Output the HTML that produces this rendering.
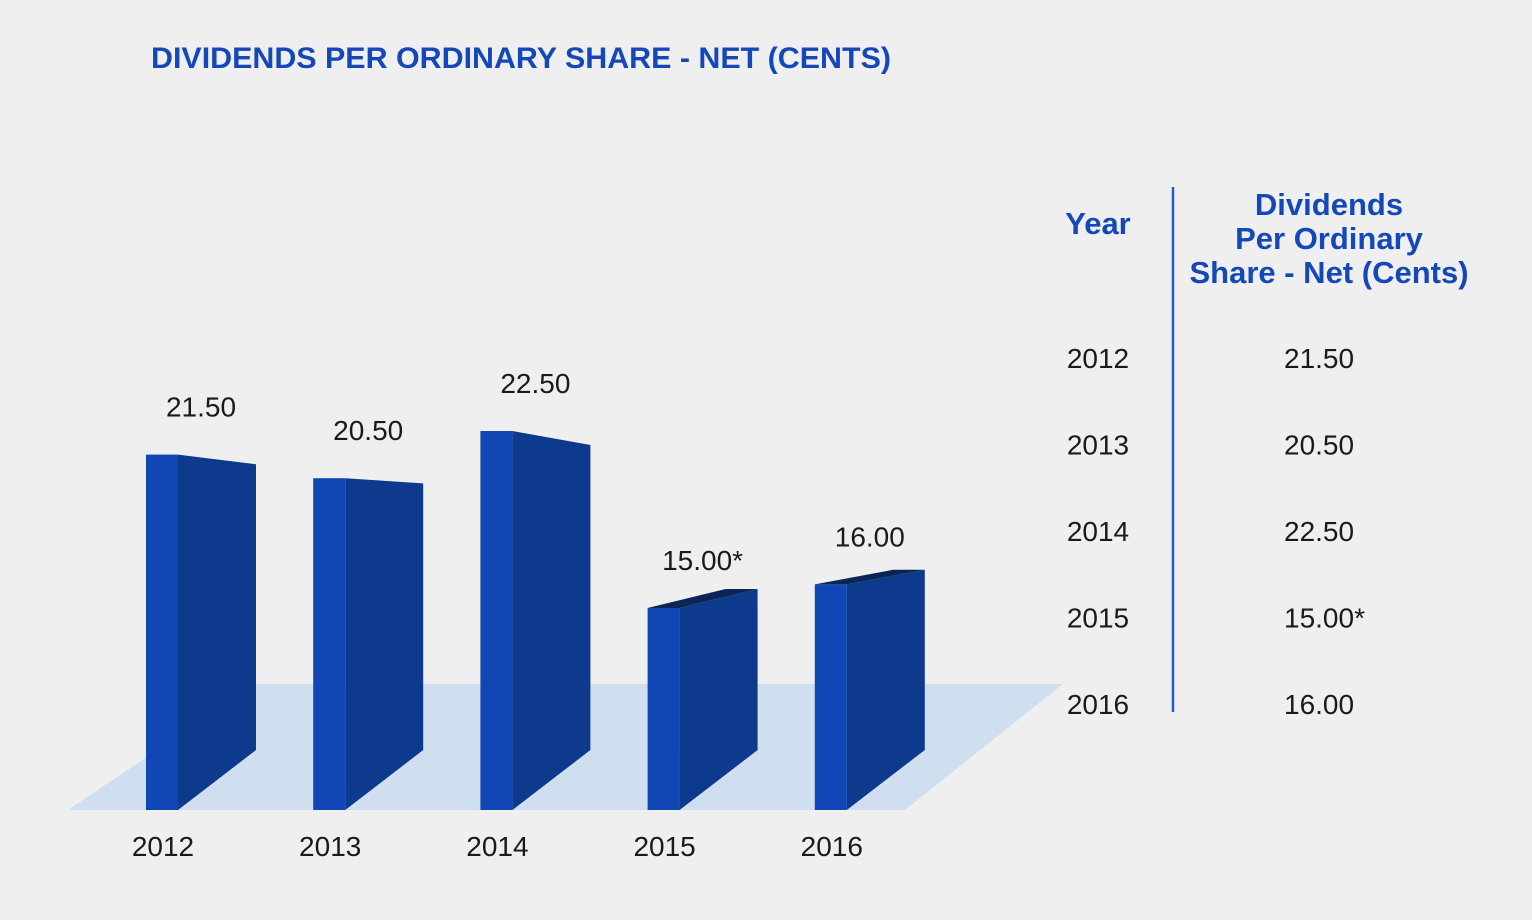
<!DOCTYPE html>
<html><head><meta charset="utf-8"><style>
html,body{margin:0;padding:0;background:#efefef;}
svg{display:block;font-family:"Liberation Sans",sans-serif;}
</style></head><body>
<svg id="chart" width="1532" height="920" viewBox="0 0 1532 920">
<rect width="1532" height="920" fill="#efefef"/>
<text x="151" y="68" font-size="30" font-weight="bold" fill="#1448b8" textLength="740" lengthAdjust="spacingAndGlyphs">DIVIDENDS PER ORDINARY SHARE - NET (CENTS)</text>
<polygon points="68,810 905,810 1063,684 255,684" fill="#cfdff0"/>
<g id="bars"></g>
<line x1="1173" y1="187" x2="1173" y2="712" stroke="#1f5fc8" stroke-width="2.5"/>
<text x="1098" y="234" font-size="31" font-weight="bold" fill="#1448b8" text-anchor="middle">Year</text>
<g font-size="31" font-weight="bold" fill="#1448b8" text-anchor="middle">
<text x="1329" y="215">Dividends</text>
<text x="1329" y="249">Per Ordinary</text>
<text x="1329" y="283">Share - Net (Cents)</text>
</g>
<g id="table"></g>
</svg>
<script>
const categories = ["2012","2013","2014","2015","2016"];
const values = [21.5, 20.5, 22.5, 15.0, 16.0];
const valueLabels = ["21.50","20.50","22.50","15.00*","16.00"];
const NS = "http://www.w3.org/2000/svg";
const base = 810, backBase = 750;
function frontH(v){ return v*23.6 - 152; }
function backH(v){ return v*19.2 - 127; }
function xPos(i){ return 146 + i*167.2; }
function mk(tag, attrs, parent){
  const e = document.createElementNS(NS, tag);
  for (const k in attrs) e.setAttribute(k, attrs[k]);
  parent.appendChild(e); return e;
}
const g = document.getElementById('bars');
categories.forEach((c,i)=>{
  const v = values[i];
  const x = xPos(i), fw = 32, dx = 78;
  const top = base - frontH(v);
  const rtop = backBase - backH(v);
  const side = mk('polygon',{points:`${x+fw},${top} ${x+fw+dx},${rtop} ${x+fw+dx},${backBase} ${x+fw},${base}`, fill:'#0e3a8e'}, g);
  
  
  if (rtop < top) {
    const tp = mk('polygon',{points:`${x},${top} ${x+fw},${top} ${x+fw+dx},${rtop} ${x+dx},${rtop}`, fill:'#0b2556'}, g);
    
    
  }
  const fr = mk('rect',{x:x, y:top, width:fw, height:base-top, fill:'#1147b5'}, g);
  
  
  const lb = mk('text',{x:x+55, y:top-38, 'font-size':28, fill:'#1a1a1a', 'text-anchor':'middle'}, g);
  lb.textContent = valueLabels[i];
  
  
  const xl = mk('text',{x:x+17, y:856, 'font-size':28, fill:'#1a1a1a', 'text-anchor':'middle'}, g);
  xl.textContent = c;
  
  
});
const t = document.getElementById('table');
categories.forEach((c,i)=>{
  const y = 368 + i*86.5;
  const a = mk('text',{x:1098, y:y, 'font-size':28, fill:'#1a1a1a', 'text-anchor':'middle'}, t);
  a.textContent = c;
  
  
  const b = mk('text',{x:1284, y:y, 'font-size':28, fill:'#1a1a1a'}, t);
  b.textContent = valueLabels[i];
  
  
});
</script>
</body></html>
